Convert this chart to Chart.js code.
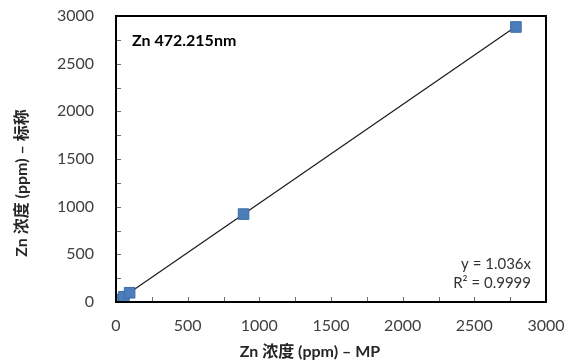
<!DOCTYPE html>
<html>
<head>
<meta charset="utf-8">
<script src="https://cdn.jsdelivr.net/npm/chart.js@4"></script>
<style>
  html, body { margin: 0; padding: 0; background: #fff; }
  #wrap { width: 567px; height: 364px; }
</style>
</head>
<body>
<div id="wrap"><canvas id="znChart"></canvas></div>
<script>
// measured Zn concentrations: MP (x) against nominal (y), ppm
const mpValues = [0, 10, 25, 55, 95, 890, 2790];
const nominalValues = [0, 10, 27, 55, 97, 922, 2885];
const slope = 1.036;
const rSquared = "0.9999";
const fitRange = [0, 2790];
const axisMax = 3000;
const majorStep = 500;
const minorStep = 250;

const FONT = "Lato, 'Noto Sans CJK SC', sans-serif";

const points = mpValues.map((x, i) => ({ x, y: nominalValues[i] }));
const fitLine = fitRange.map((x) => ({ x, y: slope * x }));

// frame, inward tick marks, and the text labels
const decorations = {
  id: "decorations",
  afterDatasetsDraw(chart) {
    const { ctx, chartArea: a, scales } = chart;
    ctx.save();
    ctx.strokeStyle = "#6e6e6e";
    ctx.lineWidth = 1;
    for (let v = 0; v <= axisMax; v += minorStep) {
      const px = Math.round(scales.x.getPixelForValue(v)) + 0.5;
      const py = Math.round(scales.y.getPixelForValue(v)) + 0.5;
      ctx.beginPath();
      ctx.moveTo(px, a.bottom); ctx.lineTo(px, a.bottom - 5);
      ctx.moveTo(a.left, py); ctx.lineTo(a.left + 5, py);
      ctx.stroke();
    }
    ctx.strokeStyle = "#000";
    ctx.lineWidth = 2;
    ctx.strokeRect(a.left, a.top, a.right - a.left, a.bottom - a.top);

    ctx.fillStyle = "#000";
    ctx.font = "bold 16px " + FONT;
    ctx.textBaseline = "middle";
    ctx.textAlign = "left";
    ctx.fillText("Zn 472.215nm", a.left + 16, a.top + 25);

    ctx.fillStyle = "#333";
    ctx.font = "15px " + FONT;
    ctx.textAlign = "right";
    ctx.fillText("y = " + slope + "x", a.right - 15, a.bottom - 38);
    ctx.fillText("R\u00b2 = " + rSquared, a.right - 15, a.bottom - 19);

    ctx.fillStyle = "#262626";
    ctx.font = "bold 16px " + FONT;
    ctx.textAlign = "center";
    ctx.fillText("Zn \u6d53\u5ea6 (ppm) \u2013 MP", 310, 352);
    ctx.translate(22, 183);
    ctx.rotate(-Math.PI / 2);
    ctx.fillText("Zn \u6d53\u5ea6 (ppm) \u2013 \u6807\u79f0", 0, 0);
    ctx.restore();
  }
};

const plainTick = (v) => String(v);

new Chart(document.getElementById("znChart"), {
  type: "scatter",
  data: {
    datasets: [
      {
        data: fitLine,
        type: "line",
        borderColor: "#1a1a1a",
        borderWidth: 1.2,
        pointRadius: 0,
        order: 2
      },
      {
        data: points,
        pointStyle: "rect",
        pointRadius: 7.5,
        backgroundColor: "#4a7ebb",
        borderColor: "#3d6da6",
        borderWidth: 1,
        order: 1
      }
    ]
  },
  options: {
    responsive: true,
    maintainAspectRatio: false,
    animation: false,
    layout: { padding: { top: 16, right: 21, left: 0, bottom: 0 } },
    plugins: { legend: { display: false }, tooltip: { enabled: false } },
    scales: {
      x: {
        type: "linear",
        min: 0,
        max: axisMax,
        grid: { display: false },
        border: { display: false },
        ticks: { stepSize: majorStep, callback: plainTick, color: "#404040", font: { family: FONT, size: 16 }, padding: 6, maxRotation: 0 },
        afterFit(scale) {
          scale.height = 62;
          scale.paddingLeft = 0;
          scale.paddingRight = 0;
        }
      },
      y: {
        type: "linear",
        min: 0,
        max: axisMax,
        grid: { display: false },
        border: { display: false },
        ticks: { stepSize: majorStep, callback: plainTick, color: "#404040", font: { family: FONT, size: 16 }, padding: 14 },
        afterFit(scale) {
          scale.width = 116;
          scale.paddingTop = 0;
          scale.paddingBottom = 0;
        }
      }
    }
  },
  plugins: [decorations]
});
</script>
</body>
</html>
